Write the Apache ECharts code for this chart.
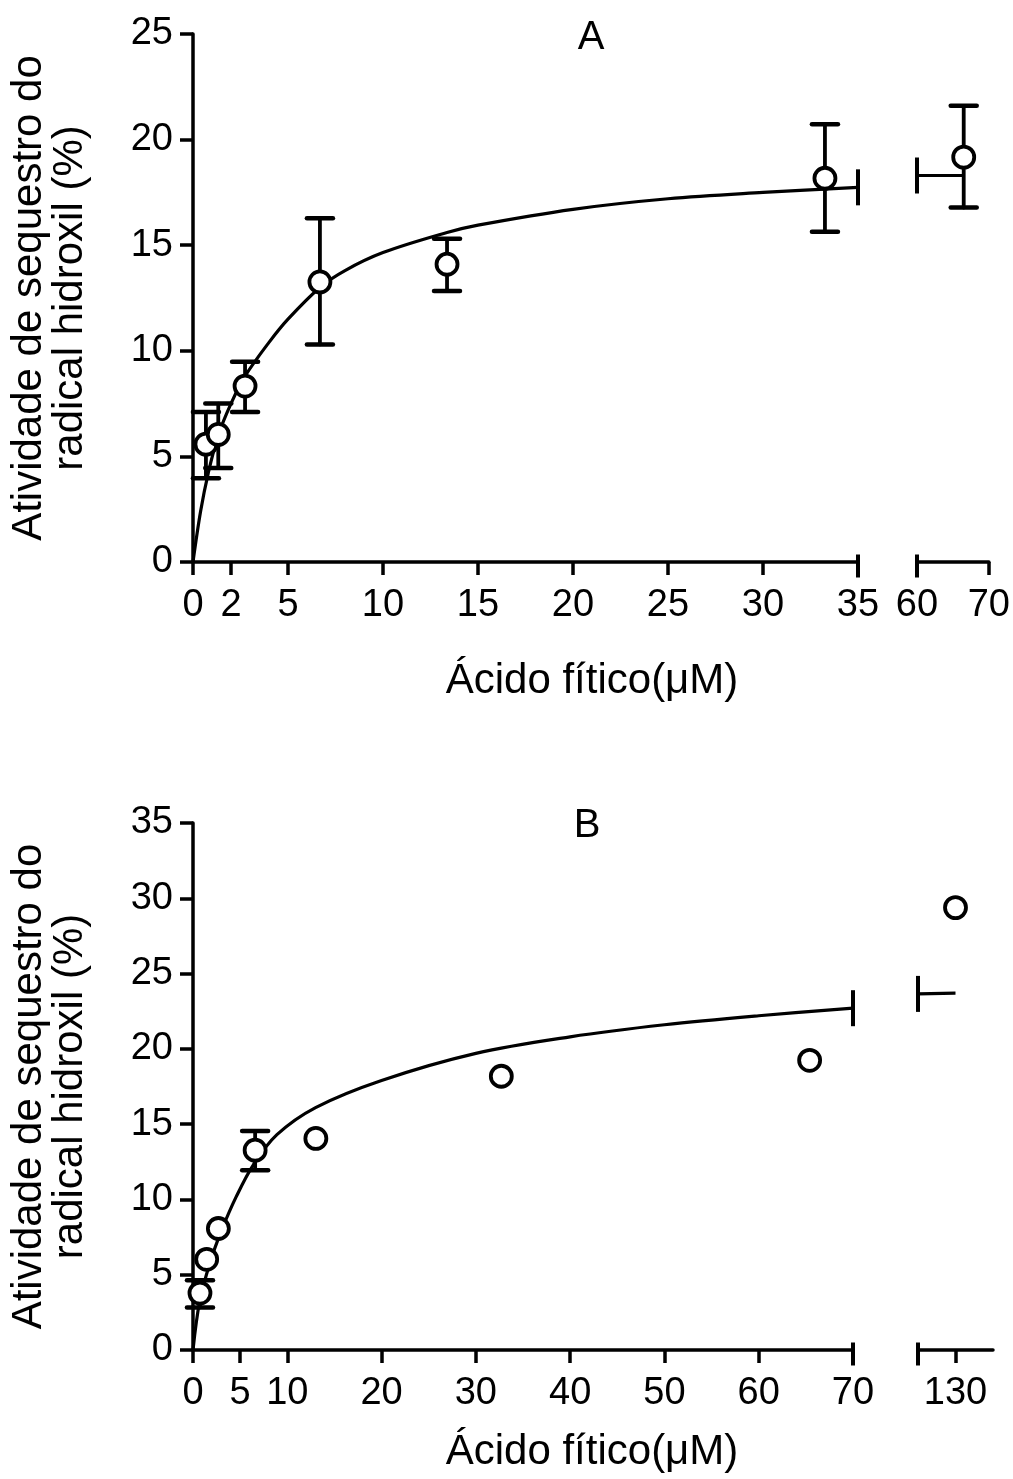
<!DOCTYPE html>
<html>
<head>
<meta charset="utf-8">
<script src="https://cdn.jsdelivr.net/npm/echarts@6/dist/echarts.min.js"></script>
<style>
html,body{margin:0;padding:0;background:#fff;}
#chart{width:1013px;height:1479px;}
</style>
</head>
<body>
<div id="chart"></div>
<script>
// ---------- Panel A data ----------
const xA = [0.68, 1.33, 2.74, 6.68, 13.37, 33.26, 66.5];
const yA = [5.58, 6.04, 8.33, 13.26, 14.1, 18.17, 19.17];
const errLowA = [3.97, 4.45, 7.1, 10.3, 12.83, 15.64, 16.78];
const errHighA = [7.1, 7.5, 9.48, 16.28, 15.3, 20.73, 21.6];
const curveA = [[0,0],[0.4,2.4],[0.8,4.2],[1.33,6.0],[2,7.5],[2.74,8.8],[4,10.4],[5,11.5],[6.68,13.0],[8,13.8],[10,14.65],[13.37,15.6],[15,15.95],[20,16.7],[25,17.2],[30,17.5],[35,17.74]];
const curveA2 = [[60,18.3],[66.5,18.3]];
const xTicksA = [0, 2, 5, 10, 15, 20, 25, 30, 35];
const xTicksA2 = [60, 70];
const yTicksA = [0, 5, 10, 15, 20, 25];

// ---------- Panel B data ----------
const xB = [0.74, 1.45, 2.69, 6.59, 13.03, 32.7, 65.4, 130];
const yB = [3.78, 6.02, 8.07, 13.27, 14.05, 18.18, 19.24, 29.38];
const errLowB = [2.83, null, null, 11.94, null, null, null, null];
const errHighB = [4.64, null, null, 14.55, null, null, null, null];
const curveB = [[0,0],[0.7,3.2],[1.8,5.8],[3,7.9],[4.6,10.2],[6.4,12.3],[8.9,14.3],[13,16.1],[20,17.9],[30,19.7],[40,20.8],[50,21.6],[60,22.2],[70,22.7]];
const curveB2 = [[125,23.65],[130,23.7]];
const xTicksB = [0, 5, 10, 20, 30, 40, 50, 60, 70];
const xTicksB2 = [130];
const yTicksB = [0, 5, 10, 15, 20, 25, 30, 35];

const FONT = 'Liberation Sans';
const BLACK = '#000';
const yTitle = 'Atividade de sequestro do\nradical hidroxil (%)';
const xTitle = 'Ácido fítico(μM)';

const chart = echarts.init(document.getElementById('chart'), null, {renderer: 'canvas'});

function xAxisCfg(gridIndex, min, max, ticks, labels) {
  return {
    type: 'value', gridIndex, min, max,
    axisLine: {show: true, onZero: false, lineStyle: {color: BLACK, width: 3.5}},
    axisTick: {show: true, length: 13, customValues: ticks, lineStyle: {color: BLACK, width: 3.5}},
    axisLabel: {show: true, customValues: labels, margin: 25, color: BLACK, fontSize: 38, fontFamily: FONT},
    splitLine: {show: false}
  };
}
function yAxisCfg(gridIndex, max, ticks, visible) {
  return {
    type: 'value', gridIndex, min: 0, max, interval: 5, show: visible,
    name: visible ? yTitle : '',
    nameLocation: 'middle', nameGap: 102, nameRotate: 90, nameMoveOverlap: false,
    nameTextStyle: {color: BLACK, fontSize: 42, fontFamily: FONT, lineHeight: 41, align: 'center'},
    axisLine: {show: true, lineStyle: {color: BLACK, width: 3.5}},
    axisTick: {show: true, length: 13, lineStyle: {color: BLACK, width: 3.5}},
    axisLabel: {show: true, margin: 20, color: BLACK, fontSize: 38, fontFamily: FONT},
    splitLine: {show: false}
  };
}

function errRender(params, api) {
  const x = api.value(0), lo = api.value(1), hi = api.value(2);
  if (lo == null || hi == null || isNaN(lo) || isNaN(hi)) return;
  const a = api.coord([x, lo]), b = api.coord([x, hi]);
  const hw = 13;
  const st = {stroke: BLACK, lineWidth: 3.8, lineCap: 'round'};
  const cap = {stroke: BLACK, lineWidth: 4.5, lineCap: 'round'};
  return {type: 'group', children: [
    {type: 'line', shape: {x1: a[0], y1: a[1], x2: b[0], y2: b[1]}, style: st},
    {type: 'line', shape: {x1: a[0]-hw, y1: a[1], x2: a[0]+hw, y2: a[1]}, style: cap},
    {type: 'line', shape: {x1: b[0]-hw, y1: b[1], x2: b[0]+hw, y2: b[1]}, style: cap}
  ]};
}

function panelSeries(xs, ys, lo, hi, xIdxMain, xIdxSeg, yIdxMain, yIdxSeg, splitX, curve, curve2, axisBreakMain, axisBreakSeg) {
  const out = [];
  const pts = xs.map((x, i) => ({x, y: ys[i], lo: lo[i], hi: hi[i]}));
  const main = pts.filter(p => p.x <= splitX), seg = pts.filter(p => p.x > splitX);
  const lineStyle = {color: BLACK, width: 3.2};
  const solid = {color: BLACK, opacity: 1};
  out.push({type: 'line', xAxisIndex: xIdxMain, yAxisIndex: yIdxMain, data: curve, smooth: 0.35, showSymbol: false, symbol: 'none', lineStyle, z: 2, clip: false, silent: true});
  out.push({type: 'line', xAxisIndex: xIdxSeg, yAxisIndex: yIdxSeg, data: curve2, showSymbol: false, symbol: 'none', lineStyle, z: 2, clip: false, silent: true});
  // break markers on the curve ends and on the axes
  out.push({type: 'scatter', xAxisIndex: xIdxMain, yAxisIndex: yIdxMain, data: [curve[curve.length-1]], symbol: 'rect', symbolSize: [4, 36], itemStyle: solid, z: 3, clip: false, silent: true});
  out.push({type: 'scatter', xAxisIndex: xIdxSeg, yAxisIndex: yIdxSeg, data: [curve2[0]], symbol: 'rect', symbolSize: [4, 36], itemStyle: solid, z: 3, clip: false, silent: true});
  out.push({type: 'scatter', xAxisIndex: xIdxMain, yAxisIndex: yIdxMain, data: [[axisBreakMain, 0]], symbol: 'rect', symbolSize: [4, 23], symbolOffset: [0, 4], itemStyle: solid, z: 3, clip: false, silent: true});
  out.push({type: 'scatter', xAxisIndex: xIdxSeg, yAxisIndex: yIdxSeg, data: [[axisBreakSeg, 0]], symbol: 'rect', symbolSize: [4, 23], symbolOffset: [0, 4], itemStyle: solid, z: 3, clip: false, silent: true});
  // error bars
  out.push({type: 'custom', xAxisIndex: xIdxMain, yAxisIndex: yIdxMain, renderItem: errRender, data: main.map(p => [p.x, p.lo, p.hi]), z: 4, clip: false, silent: true});
  out.push({type: 'custom', xAxisIndex: xIdxSeg, yAxisIndex: yIdxSeg, renderItem: errRender, data: seg.map(p => [p.x, p.lo, p.hi]), z: 4, clip: false, silent: true});
  // points
  const ptStyle = {color: '#fff', borderColor: BLACK, borderWidth: 3.8, opacity: 1};
  out.push({type: 'scatter', xAxisIndex: xIdxMain, yAxisIndex: yIdxMain, data: main.map(p => [p.x, p.y]), symbol: 'circle', symbolSize: 21, itemStyle: ptStyle, z: 5, clip: false, silent: true});
  out.push({type: 'scatter', xAxisIndex: xIdxSeg, yAxisIndex: yIdxSeg, data: seg.map(p => [p.x, p.y]), symbol: 'circle', symbolSize: 21, itemStyle: ptStyle, z: 5, clip: false, silent: true});
  return out;
}

const option = {
  backgroundColor: '#fff',
  animation: false,
  grid: [
    {left: 193, top: 34, width: 665, height: 528},
    {left: 917, top: 34, width: 72, height: 528},
    {left: 193, top: 823, width: 660, height: 527},
    {left: 918, top: 823, width: 75, height: 527}
  ],
  xAxis: [
    xAxisCfg(0, 0, 35, xTicksA, xTicksA),
    xAxisCfg(1, 60, 70, xTicksA2, xTicksA2),
    xAxisCfg(2, 0, 70, xTicksB, xTicksB),
    xAxisCfg(3, 125, 135, xTicksB2, xTicksB2)
  ],
  yAxis: [
    yAxisCfg(0, 25, yTicksA, true),
    yAxisCfg(1, 25, yTicksA, false),
    yAxisCfg(2, 35, yTicksB, true),
    yAxisCfg(3, 35, yTicksB, false)
  ],
  graphic: [
    {type: 'text', x: 591, y: 38, style: {text: 'A', fontSize: 40, fontFamily: FONT, fill: BLACK, align: 'center', verticalAlign: 'middle'}},
    {type: 'text', x: 592, y: 681, style: {text: xTitle, fontSize: 42, fontFamily: FONT, fill: BLACK, align: 'center', verticalAlign: 'middle'}},
    {type: 'text', x: 587, y: 826, style: {text: 'B', fontSize: 40, fontFamily: FONT, fill: BLACK, align: 'center', verticalAlign: 'middle'}},
    {type: 'text', x: 592, y: 1452, style: {text: xTitle, fontSize: 42, fontFamily: FONT, fill: BLACK, align: 'center', verticalAlign: 'middle'}}
  ],
  series: [].concat(
    panelSeries(xA, yA, errLowA, errHighA, 0, 1, 0, 1, 35, curveA, curveA2, 35, 60),
    panelSeries(xB, yB, errLowB, errHighB, 2, 3, 2, 3, 70, curveB, curveB2, 70, 125)
  )
};
chart.setOption(option);
</script>
</body>
</html>
